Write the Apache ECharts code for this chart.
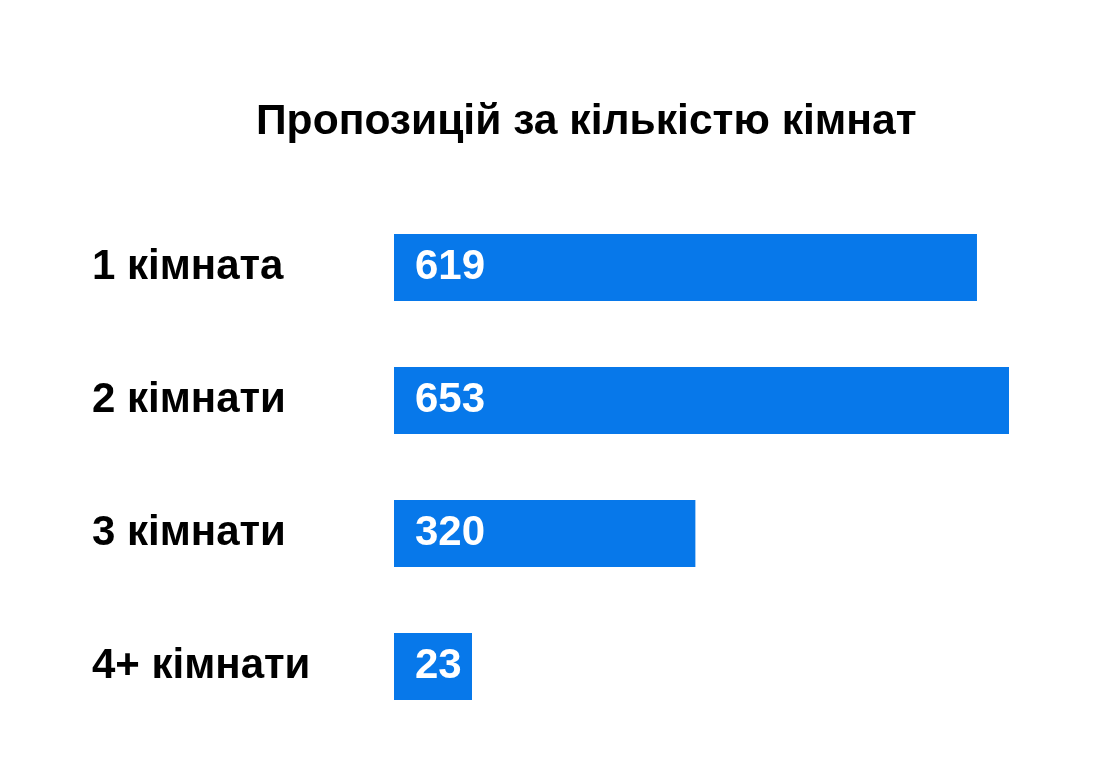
<!DOCTYPE html>
<html>
<head>
<meta charset="utf-8">
<script src="https://cdn.jsdelivr.net/npm/echarts@6/dist/echarts.min.js"></script>
<style>html,body{margin:0;padding:0;background:#fff}#c{width:1100px;height:760px}</style>
</head>
<body>
<div id="c"></div>
<script>
const titleText = 'Пропозицій за кількістю кімнат';
const categories = ['1 кімната', '2 кімнати', '3 кімнати', '4+ кімнати'];
const values = [619, 653, 320, 23];

const FONT = '"Liberation Sans", Arial, Helvetica, sans-serif';
const chart = echarts.init(document.getElementById('c'), null, {renderer: 'canvas'});
chart.setOption({
  backgroundColor: '#ffffff',
  animation: false,
  title: {
    text: titleText,
    left: 251,
    top: 96,
    textStyle: {fontFamily: FONT, fontSize: 42.6, fontWeight: 'bold', color: '#000'}
  },
  grid: {left: 394, right: 91, top: 201, bottom: 27, containLabel: false},
  xAxis: {
    type: 'value', min: 0, max: 'dataMax', show: false
  },
  yAxis: {
    type: 'category',
    data: categories,
    inverse: true,
    axisLine: {show: false},
    axisTick: {show: false},
    splitLine: {show: false},
    axisLabel: {
      align: 'left',
      margin: 302,
      fontFamily: FONT,
      fontSize: 42,
      fontWeight: 'bold',
      color: '#000'
    }
  },
  series: [{
    type: 'bar',
    data: values,
    barWidth: 67,
    barMinHeight: 78,
    itemStyle: {color: '#0778EA'},
    label: {
      show: true,
      position: 'insideLeft',
      distance: 21,
      fontFamily: FONT,
      fontSize: 42,
      fontWeight: 'bold',
      color: '#fff'
    }
  }]
});
</script>
</body>
</html>
